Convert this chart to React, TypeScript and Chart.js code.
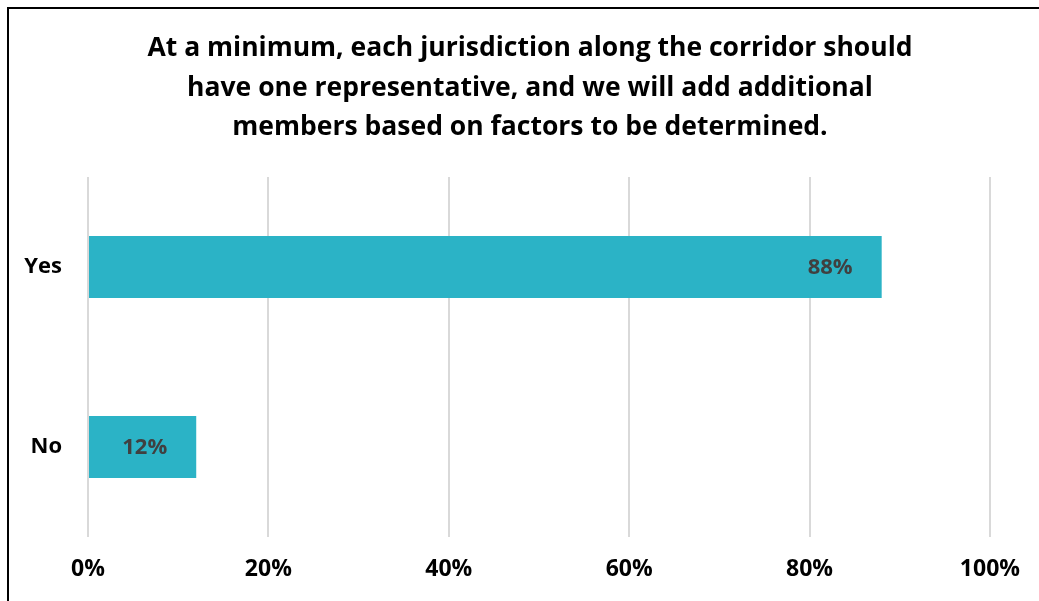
import React, { useEffect, useRef } from "react";
import { Chart, registerables } from "chart.js";

Chart.register(...registerables);

const titleLines = [
  "At a minimum, each jurisdiction along the corridor should",
  "have one representative, and we will add additional",
  "members based on factors to be determined.",
];
const categories = ["Yes", "No"];
const values = [88, 12];
const xTicks = [0, 20, 40, 60, 80, 100];

const FONT = "'Open Sans', 'Noto Sans', sans-serif";

const titlePlugin = {
  id: "customTitle",
  afterDraw(chart: any) {
    const ctx = chart.ctx;
    ctx.save();
    ctx.font = `bold 26.5px ${FONT}`;
    ctx.fillStyle = "#000000";
    ctx.textAlign = "center";
    ctx.textBaseline = "alphabetic";
    titleLines.forEach((line, i) => {
      ctx.fillText(line, 530, 56 + i * 39.5);
    });
    ctx.restore();
  },
};

const dataLabels = {
  id: "dataLabels",
  afterDatasetsDraw(chart: any) {
    const ctx = chart.ctx;
    const meta = chart.getDatasetMeta(0);
    ctx.save();
    ctx.font = `bold 22px ${FONT}`;
    ctx.fillStyle = "#404040";
    ctx.textAlign = "right";
    ctx.textBaseline = "middle";
    meta.data.forEach((bar: any, i: number) => {
      ctx.fillText(`${values[i]}%`, bar.x - 29, bar.y + 1);
    });
    ctx.restore();
  },
};

export default function App() {
  const ref = useRef<HTMLCanvasElement>(null);
  useEffect(() => {
    if (!ref.current) return;
    const chart = new Chart(ref.current, {
      type: "bar",
      data: {
        labels: categories,
        datasets: [
          {
            data: values,
            backgroundColor: "#2BB3C6",
            borderWidth: 0,
            categoryPercentage: 1,
            barPercentage: 0.345,
          },
        ],
      },
      options: {
        indexAxis: "y",
        responsive: false,
        maintainAspectRatio: false,
        animation: false,
        devicePixelRatio: 1,
        layout: { padding: { left: 0, right: 43, top: 177, bottom: 16 } },
        plugins: {
          legend: { display: false },
          tooltip: { enabled: false },
          title: { display: false },
        },
        scales: {
          x: {
            min: 0,
            max: 100,
            afterBuildTicks(axis: any) {
              axis.ticks = xTicks.map((v) => ({ value: v }));
            },
            afterFit(axis: any) {
              axis.height = 48;
            },
            ticks: {
              color: "#000000",
              font: { family: FONT, size: 23, weight: "bold" },
              padding: 19,
              callback: (v: any) => `${v}%`,
            },
            grid: { color: "#D9D9D9", lineWidth: 2, drawTicks: false },
            border: { display: false },
          },
          y: {
            afterFit(axis: any) {
              axis.width = 88;
            },
            ticks: {
              color: "#000000",
              font: { family: FONT, size: 22, weight: "bold" },
              padding: 26,
            },
            grid: { display: false, drawTicks: false },
            border: { display: false },
          },
        },
      },
      plugins: [dataLabels, titlePlugin],
    });
    return () => chart.destroy();
  }, []);

  return (
    <div style={{ position: "fixed", inset: 0, overflow: "hidden", background: "#fff" }}>
      <canvas
        ref={ref}
        width={1039}
        height={601}
        style={{ position: "absolute", left: 0, top: 0, width: 1039, height: 601 }}
      />
      <div
        style={{
          position: "absolute",
          left: 7,
          top: 7,
          width: 1200,
          height: 800,
          borderLeft: "2px solid #000",
          borderTop: "2px solid #000",
          pointerEvents: "none",
        }}
      />
    </div>
  );
}
